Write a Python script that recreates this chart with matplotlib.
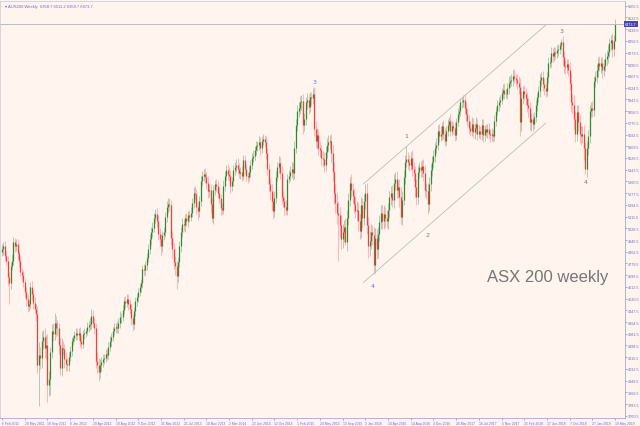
import matplotlib
matplotlib.use("Agg")
import matplotlib.pyplot as plt
import numpy as np
from datetime import date, timedelta

# weekly closes of AUS200, first bar = week of 6 Feb 2011
first_open = 4860
c2011 = [4880, 4905, 4830, 4800, 4680, 4640, 4760, 4800, 4930, 4900,
         4920, 4850, 4800, 4720, 4700, 4650, 4580, 4530, 4480, 4490,
         4610, 4560, 4500, 4460, 4420, 4060, 4130, 4110, 4230, 4260,
         4180, 4200, 3920, 3960, 4150, 4300, 4280, 4360, 4320, 4320,
         4200, 4040, 4180, 4170, 4100, 4070, 4060]
c2012 = [4120, 4160, 4230, 4250, 4270, 4290, 4270, 4290, 4230, 4210,
         4280, 4290, 4300, 4330, 4340, 4350, 4410, 4360, 4320, 4090,
         4060, 4010, 4060, 4080, 4100, 4110, 4140, 4130, 4190, 4230,
         4260, 4300, 4320, 4330, 4320, 4360, 4400, 4400, 4450, 4510,
         4500, 4530, 4490, 4460, 4390, 4350, 4440, 4510, 4540, 4580,
         4610, 4640]
c2013 = [4740, 4730, 4770, 4820, 4880, 4950, 5000, 5030, 5100, 5130,
         5080, 4990, 4950, 4900, 4980, 5000, 5110, 5180, 5200, 5190,
         4960, 4880, 4790, 4760, 4690, 4790, 4900, 5000, 5060, 5050,
         5100, 5080, 5120, 5110, 5140, 5210, 5280, 5270, 5180, 5150,
         5220, 5360, 5400, 5410, 5390, 5350, 5290, 5300, 5200, 5100,
         5300, 5340]
c2014 = [5330, 5280, 5240, 5170, 5160, 5330, 5400, 5440, 5410, 5400,
         5330, 5360, 5440, 5460, 5480, 5450, 5420, 5430, 5400, 5510,
         5450, 5400, 5390, 5430, 5480, 5530, 5540, 5580, 5610, 5620,
         5640, 5600, 5650, 5660, 5640, 5560, 5450, 5340, 5290, 5220,
         5150, 5240, 5390, 5460, 5490, 5420, 5250, 5220, 5180, 5160,
         5380, 5400]
c2015 = [5430, 5450, 5420, 5600, 5760, 5860, 5880, 5920, 5930, 5760,
         5800, 5920, 5940, 5890, 5960, 5950, 5980, 5730, 5650, 5690,
         5600, 5580, 5530, 5520, 5480, 5570, 5620, 5640, 5650, 5560,
         5430, 5280, 5210, 5140, 5120, 5050, 4950, 5000, 5040, 4930,
         5100, 5230, 5350, 5300, 5260, 5200, 5150, 5160, 5080, 5010,
         5190, 5100]
c2016 = [5220, 5280, 5050, 4900, 4940, 5000, 4980, 4770, 4960, 4880,
         4990, 5070, 5140, 5080, 5130, 5100, 5080, 5160, 5250, 5280,
         5230, 5350, 5380, 5300, 5320, 5250, 5110, 5230, 5390, 5500,
         5520, 5500, 5480, 5530, 5450, 5420, 5320, 5250, 5430, 5460,
         5440, 5470, 5420, 5300, 5290, 5200, 5340, 5440, 5500, 5540,
         5600, 5620]
c2017 = [5720, 5680, 5700, 5750, 5700, 5650, 5720, 5760, 5790, 5720,
         5750, 5740, 5690, 5780, 5840, 5860, 5920, 5920, 5940, 5880,
         5840, 5790, 5740, 5720, 5770, 5710, 5740, 5770, 5700, 5720,
         5700, 5760, 5690, 5730, 5710, 5730, 5700, 5690, 5700, 5680,
         5790, 5860, 5900, 5920, 5940, 5990, 6010, 5980, 5980, 6020,
         6060, 6070]
c2018 = [6080, 6110, 6090, 6080, 6060, 6030, 5780, 5950, 6000, 5980,
         5950, 5900, 5880, 5780, 5800, 5770, 5820, 5900, 5960, 6000,
         6080, 6100, 6050, 6020, 6000, 6100, 6200, 6210, 6270, 6250,
         6280, 6270, 6290, 6300, 6330, 6350, 6240, 6180, 6170, 6190,
         6150, 6060, 5920, 5900, 5800, 5700, 5850, 5780, 5700, 5680,
         5700, 5600]
c2019 = [5450, 5600, 5680, 5860, 5880, 5870, 6070, 6100, 6150, 6200,
         6180, 6200, 6150, 6180, 6230, 6250, 6280, 6340, 6360, 6300,
         6358.7, 6473.7]

# wick lengths above / below the candle body (points)
up = [40, 25, 30, 35, 30, 40, 30, 45, 40, 30, 35, 30, 25, 35, 30, 30, 25, 30, 35, 30,
      40, 45, 30, 40, 35, 60, 90, 60, 70, 50, 60, 70, 80, 60, 40, 50, 60, 70, 50, 60,
      40, 50, 70, 50, 40, 50, 40,
      30, 35, 30, 25, 30, 30, 35, 30, 40, 35, 30, 30, 25, 35, 30, 40, 50, 40, 35, 40,
      60, 50, 45, 40, 35, 30, 35, 30, 30, 35, 30, 30, 35, 30, 40, 35, 40, 30, 35, 30,
      40, 35, 30, 40, 35, 30, 30, 35, 30, 25, 30, 30,
      30, 35, 30, 30, 35, 40, 35, 40, 40, 35, 40, 45, 40, 35, 30, 40, 35, 40, 45, 40,
      40, 50, 45, 40, 40, 35, 40, 35, 40, 35, 30, 35, 30, 35, 40, 35, 40, 45, 40, 35,
      40, 40, 35, 40, 45, 40, 50, 45, 40, 40, 35, 30,
      40, 35, 40, 30, 35, 40, 35, 40, 45, 50, 40, 35, 40, 35, 40, 45, 40, 35, 40, 35,
      40, 35, 30, 40, 35, 30, 40, 35, 40, 30, 40, 35, 30, 40, 30, 40, 35, 40, 45, 50,
      60, 50, 45, 40, 50, 45, 50, 45, 40, 50, 35, 40,
      40, 50, 45, 50, 40, 45, 40, 45, 40, 50, 45, 40, 45, 40, 35, 36, 40, 50, 60, 50,
      45, 50, 40, 45, 50, 40, 45, 50, 40, 50, 60, 70, 60, 70, 80, 60, 70, 60, 50, 60,
      55, 50, 45, 60, 50, 55, 50, 60, 55, 50, 60, 55,
      50, 60, 70, 60, 70, 60, 55, 60, 70, 60, 50, 55, 50, 55, 60, 50, 55, 50, 45, 50,
      55, 60, 50, 55, 50, 60, 70, 60, 50, 45, 90, 50, 45, 40, 50, 45, 50, 55, 45, 40,
      45, 40, 50, 55, 50, 60, 50, 45, 40, 45, 40, 45,
      40, 45, 50, 35, 45, 40, 35, 40, 30, 45, 40, 35, 45, 30, 40, 45, 35, 40, 30, 40,
      45, 35, 40, 50, 45, 40, 35, 45, 30, 40, 35, 45, 40, 30, 35, 40, 45, 30, 40, 35,
      40, 30, 35, 40, 30, 35, 40, 45, 35, 40, 45, 40,
      40, 40, 45, 35, 40, 45, 60, 50, 40, 45, 40, 45, 50, 40, 45, 40, 35, 40, 30, 35,
      40, 35, 40, 45, 40, 35, 40, 35, 40, 35, 30, 35, 40, 35, 20, 20, 40, 45, 40, 35,
      40, 60, 70, 60, 70, 60, 55, 50, 60, 50, 55, 60,
      40, 50, 45, 40, 45, 50, 40, 45, 40, 45, 50, 40, 45, 50, 40, 45, 50, 40, 35, 50,
      40, 37.5]
dn = [30, 40, 35, 30, 60, 150, 40, 30, 35, 40, 30, 40, 45, 30, 40, 35, 40, 50, 45, 40,
      35, 40, 45, 30, 50, 60, 290, 80, 70, 60, 70, 80, 120, 80, 110, 40, 50, 40, 60, 50,
      60, 50, 60, 40, 60, 50, 40,
      40, 30, 35, 30, 30, 35, 30, 30, 40, 35, 30, 35, 30, 30, 35, 30, 35, 30, 40, 50,
      60, 60, 40, 40, 35, 30, 30, 35, 30, 30, 35, 30, 30, 35, 30, 30, 35, 40, 30, 30,
      35, 30, 40, 35, 50, 50, 35, 30, 30, 35, 30, 30,
      35, 40, 30, 35, 30, 35, 40, 35, 30, 35, 40, 45, 50, 60, 40, 35, 30, 35, 40, 40,
      50, 60, 50, 60, 90, 40, 35, 40, 35, 40, 45, 35, 40, 35, 30, 35, 40, 40, 50, 60,
      40, 35, 30, 35, 40, 45, 50, 40, 60, 30, 40, 35,
      35, 40, 35, 50, 40, 30, 35, 30, 40, 35, 50, 35, 30, 35, 30, 40, 35, 40, 35, 30,
      40, 35, 40, 30, 35, 30, 35, 30, 30, 35, 40, 50, 35, 30, 35, 40, 45, 50, 60, 60,
      55, 40, 35, 30, 40, 45, 50, 40, 60, 40, 35, 30,
      40, 45, 50, 40, 35, 40, 45, 40, 50, 60, 45, 40, 45, 50, 40, 45, 40, 45, 50, 60,
      50, 45, 50, 60, 55, 45, 40, 45, 50, 60, 70, 80, 70, 80, 320, 80, 70, 60, 70, 20,
      60, 50, 45, 50, 55, 60, 50, 60, 70, 60, 50, 70,
      50, 55, 60, 80, 70, 60, 70, 64, 60, 70, 60, 55, 50, 60, 55, 60, 50, 55, 50, 60,
      50, 55, 50, 60, 55, 70, 50, 60, 40, 45, 40, 50, 45, 40, 50, 60, 70, 55, 50, 45,
      50, 45, 60, 50, 55, 70, 50, 45, 40, 35, 40, 35,
      35, 40, 30, 45, 40, 35, 30, 40, 35, 40, 30, 45, 40, 35, 30, 40, 35, 40, 30, 45,
      50, 40, 45, 35, 40, 45, 50, 40, 45, 35, 40, 45, 50, 40, 35, 45, 40, 50, 45, 40,
      30, 35, 30, 40, 35, 30, 40, 35, 30, 35, 40, 30,
      35, 40, 35, 40, 45, 50, 100, 60, 40, 45, 50, 45, 60, 55, 60, 50, 40, 35, 40, 35,
      40, 45, 50, 45, 40, 35, 40, 35, 40, 45, 35, 40, 35, 40, 35, 40, 60, 50, 45, 40,
      45, 50, 70, 60, 70, 60, 50, 60, 70, 60, 50, 90,
      40, 60, 50, 45, 40, 50, 45, 40, 45, 50, 40, 50, 60, 45, 40, 45, 50, 40, 45, 60,
      50, 0]

# elliott wave labels: (text, week, price, colour)
wave_labels = [("3", 220, 6068, "#6c6cd8"), ("4", 261, 4622, "#6c6cd8"),
               ("1", 285, 5684, "#777777"), ("2", 300, 4981, "#777777"),
               ("3", 394, 6428, "#777777"), ("4", 411, 5358, "#777777")]
# channel lines (week, price)
upper_line = [(254.6, 5342), (383.2, 6469)]
lower_line = [(254.6, 4644), (383.2, 5774)]
last_price = 6473.7
y_top, y_step, n_labels = 6605.5, 83, 36

closes = np.array(c2011 + c2012 + c2013 + c2014 + c2015 + c2016 + c2017 + c2018 + c2019)
opens = np.concatenate([[first_open], closes[:-1]])
highs = np.maximum(opens, closes) + np.array(up)
lows = np.minimum(opens, closes) - np.array(dn)
weeks = np.arange(len(closes))

bg = "#fff5ee"
axis_col = "#6b6bd0"
small = ["Liberation Sans", "DejaVu Sans"]
fig = plt.figure(figsize=(6.4, 4.27), dpi=100, facecolor=bg)
ax = fig.add_axes([0.0, 8 / 427, 625 / 640, 417 / 427], facecolor=bg)

bull = closes >= opens
# wicks
ax.vlines(weeks[bull], lows[bull], highs[bull], color="#b9c6b2", lw=0.7)
ax.vlines(weeks[~bull], lows[~bull], highs[~bull], color="#ffb4b4", lw=0.7)
# bodies
ax.vlines(weeks[bull], opens[bull], closes[bull], color="#2f8a2f", lw=0.9)
ax.vlines(weeks[~bull], closes[~bull], opens[~bull], color="#ff3a3a", lw=0.9)

# channel and last price line
ax.plot(*zip(*upper_line), color="#bdbdbd", lw=0.6)
ax.plot(*zip(*lower_line), color="#bdbdbd", lw=0.6)
ax.axhline(last_price, color="#bcbcbc", lw=0.7)

for txt, wk, pr, col in wave_labels:
    ax.text(wk, pr, txt, color=col, fontsize=4.5, ha="center", va="center")

ax.text(0.779, 0.34, "ASX 200 weekly", transform=ax.transAxes, fontsize=12,
        color="#767676", family="Liberation Sans", va="center")
ax.text(0.008, 0.992, "\u25be AUS200,Weekly  6358.7 6511.2 6358.7 6473.7",
        transform=ax.transAxes, fontsize=3.0, color=axis_col, va="top", family=small)

ax.set_xlim(-1.41, 439.0)
ax.set_ylim(3684.4, 6638.8)

# price axis on the right
yt = [y_top - k * y_step for k in range(n_labels)]
ax.yaxis.tick_right()
ax.set_yticks(yt)
ax.set_yticklabels(["%.1f" % v for v in yt], family=small)
ax.tick_params(axis="y", labelsize=2.7, colors=axis_col, length=1.2, width=0.4, pad=0.8)
ax.text(1.0, last_price, "%.1f" % last_price, transform=ax.get_yaxis_transform(),
        fontsize=2.7, color="white", va="center", ha="left", family=small,
        bbox=dict(boxstyle="square,pad=0.25", fc="#4646b4", ec="none"))

# date axis, one label every 16 weeks
start = date(2011, 2, 6)
xt = list(range(0, len(closes), 16))
xl = []
for w in xt:
    d = start + timedelta(weeks=w)
    xl.append("%d %s %d" % (d.day, d.strftime("%b"), d.year))
ax.set_xticks(xt)
ax.set_xticklabels(xl, ha="left", family=small)
ax.tick_params(axis="x", labelsize=2.4, colors=axis_col, length=1.2, width=0.4, pad=0.8)

for s in ["left", "top"]:
    ax.spines[s].set_color("#c8c8d8")
    ax.spines[s].set_linewidth(0.5)
for s in ["right", "bottom"]:
    ax.spines[s].set_color("#a8a8d0")
    ax.spines[s].set_linewidth(0.6)

fig.savefig("out.png", dpi=100, facecolor=bg)
